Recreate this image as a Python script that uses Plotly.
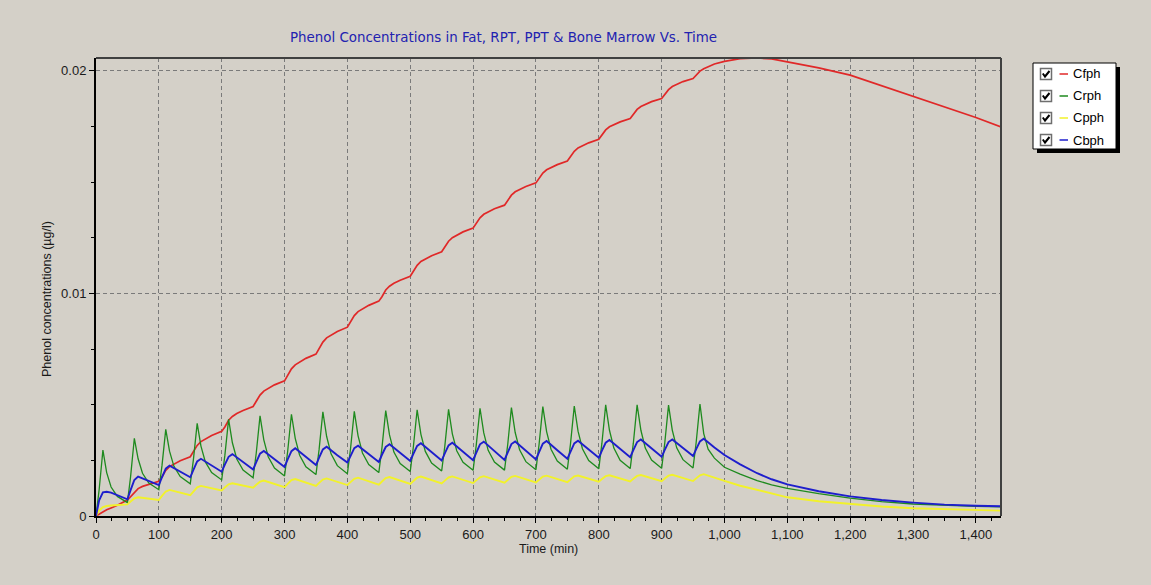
import plotly.graph_objects as go

# ---------------- data ----------------
time_min = [
    0, 5, 11, 17, 24, 34,
    50, 55, 61, 67, 74, 84,
    100, 105, 111, 117, 124, 134,
    150, 155, 161, 167, 174, 184,
    200, 205, 211, 217, 224, 234,
    250, 255, 261, 267, 274, 284,
    300, 305, 311, 317, 324, 334,
    350, 355, 361, 367, 374, 384,
    400, 405, 411, 417, 424, 434,
    450, 455, 461, 467, 474, 484,
    500, 505, 511, 517, 524, 534,
    550, 555, 561, 567, 574, 584,
    600, 605, 611, 617, 624, 634,
    650, 655, 661, 667, 674, 684,
    700, 705, 711, 717, 724, 734,
    750, 755, 761, 767, 774, 784,
    800, 805, 811, 817, 824, 834,
    850, 855, 861, 867, 874, 884,
    900, 905, 911, 917, 924, 934,
    950, 955, 961, 967, 974, 984,
    1000, 1025, 1052, 1075, 1100, 1150, 1200, 1250, 1300, 1350, 1400, 1440,
]

Cfph = [
    0, 0.00008, 0.0002, 0.00028, 0.00036, 0.00048,
    0.00072, 0.00087, 0.00109, 0.00123, 0.00133, 0.00143,
    0.00156, 0.00176, 0.00205, 0.00222, 0.00234, 0.00248,
    0.00266, 0.00287, 0.00317, 0.00334, 0.00347, 0.00362,
    0.0038, 0.004, 0.0043, 0.00447, 0.0046, 0.00474,
    0.00492, 0.00513, 0.00543, 0.00561, 0.00574, 0.00589,
    0.00607, 0.00629, 0.00661, 0.00679, 0.00692, 0.00708,
    0.00727, 0.00749, 0.00781, 0.008, 0.00813, 0.00829,
    0.00848, 0.00869, 0.009, 0.00918, 0.00931, 0.00946,
    0.00965, 0.00985, 0.01015, 0.01032, 0.01045, 0.01059,
    0.01077, 0.01097, 0.01126, 0.01143, 0.01155, 0.01169,
    0.01187, 0.01206, 0.01234, 0.0125, 0.01262, 0.01276,
    0.01293, 0.01312, 0.01339, 0.01355, 0.01366, 0.0138,
    0.01396, 0.01414, 0.01441, 0.01456, 0.01467, 0.0148,
    0.01496, 0.01514, 0.0154, 0.01555, 0.01566, 0.01578,
    0.01594, 0.01612, 0.01638, 0.01653, 0.01664, 0.01676,
    0.01692, 0.01709, 0.01734, 0.01748, 0.01758, 0.0177,
    0.01785, 0.01802, 0.01826, 0.01839, 0.01849, 0.01861,
    0.01875, 0.01892, 0.01915, 0.01929, 0.01939, 0.01951,
    0.01965, 0.0198, 0.01998, 0.02009, 0.02019, 0.0203,
    0.02042, 0.02054, 0.02057, 0.02053, 0.0204, 0.02013, 0.0198, 0.01932, 0.01883, 0.01836, 0.0179, 0.01747,
]

Crph = [
    0, 0.00118, 0.00296, 0.00195, 0.0013, 0.00088,
    0.0006, 0.00176, 0.00349, 0.00257, 0.00192, 0.00148,
    0.00118, 0.00226, 0.00389, 0.00291, 0.00223, 0.00177,
    0.00145, 0.00253, 0.00416, 0.00314, 0.00243, 0.00195,
    0.00162, 0.00271, 0.00434, 0.00329, 0.00256, 0.00206,
    0.00172, 0.00283, 0.0045, 0.00342, 0.00266, 0.00215,
    0.0018, 0.00291, 0.00457, 0.00349, 0.00273, 0.00221,
    0.00186, 0.00299, 0.00468, 0.00357, 0.00279, 0.00226,
    0.0019, 0.00302, 0.0047, 0.0036, 0.00283, 0.00231,
    0.00195, 0.00306, 0.00473, 0.00364, 0.00287, 0.00236,
    0.002, 0.00311, 0.00477, 0.00367, 0.0029, 0.00238,
    0.00202, 0.00313, 0.00479, 0.00369, 0.00293, 0.00241,
    0.00205, 0.00317, 0.00484, 0.00373, 0.00295, 0.00242,
    0.00206, 0.00318, 0.00487, 0.00375, 0.00297, 0.00244,
    0.00208, 0.00321, 0.00491, 0.00379, 0.003, 0.00247,
    0.0021, 0.00324, 0.00494, 0.00381, 0.00302, 0.00249,
    0.00212, 0.00327, 0.00499, 0.00385, 0.00305, 0.0025,
    0.00213, 0.00327, 0.00499, 0.00385, 0.00305, 0.00251,
    0.00214, 0.00328, 0.00498, 0.00385, 0.00306, 0.00253,
    0.00216, 0.00331, 0.00503, 0.0037, 0.003, 0.0026,
    0.00219, 0.00188, 0.00159, 0.0014, 0.00124, 0.001, 0.0008, 0.00065, 0.00054, 0.00047, 0.00043, 0.00041,
]

Cpph = [
    0, 0.00025, 0.0004, 0.00045, 0.00047, 0.0005,
    0.00052, 0.00065, 0.00079, 0.00084, 0.00081, 0.00078,
    0.00072, 0.0009, 0.0011, 0.00117, 0.00112, 0.00105,
    0.00094, 0.0011, 0.00129, 0.00135, 0.00131, 0.00124,
    0.00115, 0.00128, 0.00142, 0.00147, 0.00143, 0.00136,
    0.00127, 0.0014, 0.00154, 0.00159, 0.00153, 0.00144,
    0.0013, 0.00144, 0.00161, 0.00166, 0.00159, 0.0015,
    0.00135, 0.00149, 0.00164, 0.00169, 0.00162, 0.00153,
    0.00139, 0.00152, 0.00167, 0.00172, 0.00165, 0.00156,
    0.00141, 0.00155, 0.0017, 0.00175, 0.00168, 0.00159,
    0.00144, 0.00157, 0.00172, 0.00177, 0.0017, 0.00161,
    0.00146, 0.00159, 0.00173, 0.00178, 0.00171, 0.00162,
    0.00148, 0.0016, 0.00174, 0.00179, 0.00173, 0.00164,
    0.0015, 0.00162, 0.00176, 0.0018, 0.00174, 0.00165,
    0.00151, 0.00163, 0.00177, 0.00181, 0.00175, 0.00166,
    0.00152, 0.00164, 0.00178, 0.00182, 0.00176, 0.00167,
    0.00154, 0.00166, 0.00179, 0.00183, 0.00177, 0.00168,
    0.00155, 0.00167, 0.0018, 0.00184, 0.00178, 0.00169,
    0.00156, 0.00168, 0.00181, 0.00185, 0.00179, 0.0017,
    0.00157, 0.00169, 0.00183, 0.00188, 0.00181, 0.00172,
    0.00158, 0.00136, 0.00117, 0.001, 0.00084, 0.00066, 0.00054, 0.00043, 0.00035, 0.0003, 0.00026, 0.00024,
]

Cbph = [
    0, 0.0007, 0.00106, 0.00109, 0.00105, 0.00094,
    0.00075, 0.00116, 0.00162, 0.00177, 0.00169, 0.00157,
    0.00139, 0.00174, 0.00213, 0.00226, 0.00215, 0.00198,
    0.00174, 0.00207, 0.00245, 0.00257, 0.00244, 0.00226,
    0.00199, 0.00231, 0.00266, 0.00278, 0.00263, 0.00241,
    0.00209, 0.00242, 0.0028, 0.00292, 0.00276, 0.00254,
    0.0022, 0.00254, 0.00291, 0.00304, 0.00288, 0.00264,
    0.00229, 0.00262, 0.00299, 0.00311, 0.00295, 0.00273,
    0.0024, 0.0027, 0.00305, 0.00316, 0.003, 0.00277,
    0.00243, 0.00275, 0.0031, 0.00322, 0.00306, 0.00282,
    0.00247, 0.00279, 0.00315, 0.00327, 0.0031, 0.00286,
    0.00249, 0.00281, 0.00317, 0.00329, 0.00312, 0.00288,
    0.00251, 0.00284, 0.00322, 0.00334, 0.00316, 0.00291,
    0.00252, 0.00285, 0.00323, 0.00335, 0.00317, 0.00292,
    0.00254, 0.00287, 0.00325, 0.00337, 0.00319, 0.00295,
    0.00257, 0.00289, 0.00326, 0.00338, 0.00321, 0.00298,
    0.00262, 0.00294, 0.00329, 0.00341, 0.00324, 0.003,
    0.00264, 0.00296, 0.00332, 0.00344, 0.00327, 0.00303,
    0.00266, 0.00297, 0.00332, 0.00344, 0.00328, 0.00304,
    0.00269, 0.003, 0.00335, 0.00347, 0.0033, 0.00308,
    0.00274, 0.00232, 0.00192, 0.00165, 0.00142, 0.00111, 0.00088, 0.00072, 0.0006, 0.00051, 0.00046, 0.00044,
]

series_names = ["Cfph", "Crph", "Cpph", "Cbph"]
series_values = [Cfph, Crph, Cpph, Cbph]
series_colors = ["#E02828", "#1E8A1E", "#F2F22A", "#1E1ECC"]
series_widths = [1.7, 1.3, 1.9, 1.9]

x_tick_vals = [0, 100, 200, 300, 400, 500, 600, 700, 800, 900, 1000, 1100, 1200, 1300, 1400]
y_tick_vals = [0, 0.01, 0.02]
y_tick_text = ["0", "0.01", "0.02"]

title_text = "Phenol Concentrations in Fat, RPT, PPT & Bone Marrow Vs. Time"
x_title = "Time (min)"
y_title = "Phenol concentrations (µg/l)"

# ---------------- layout geometry (pixels) ----------------
W, H = 1151, 585
L, R, T, B = 96, 1001, 58, 516
BG = "#D4D0C8"
FONT = "Liberation Sans, Arial, sans-serif"
WIDE_FONT = "DejaVu Sans, Verdana, sans-serif"


def px(x):
    return (x - L) / (R - L)


def py(y):
    return (B - y) / (B - T)


fig = go.Figure()
for name, vals, col, w in zip(series_names, series_values, series_colors, series_widths):
    fig.add_trace(go.Scatter(x=time_min, y=vals, name=name, mode="lines",
                             line=dict(color=col, width=w), showlegend=False))

axis_common = dict(
    showline=True, linecolor="black", linewidth=2,
    ticks="outside", ticklen=5, tickcolor="black", tickwidth=1,
    showgrid=True, gridcolor="#7A7A7A", gridwidth=1, griddash="4px,3px",
    zeroline=False,
    tickfont=dict(family=FONT, size=13, color="#1A1A1A"),
)

fig.update_xaxes(
    range=[0, 1440], tickvals=x_tick_vals, tickformat=",d",
    minor=dict(dtick=25, tick0=0, ticks="outside", ticklen=3, tickcolor="black", showgrid=False),
    **axis_common,
)
fig.update_yaxes(
    range=[0, 0.02057], tickvals=y_tick_vals, ticktext=y_tick_text,
    minor=dict(dtick=0.0025, tick0=0, ticks="outside", ticklen=3, tickcolor="black", showgrid=False),
    **axis_common,
)

shapes = []
# top & right frame of the plot area (dark gray)
shapes.append(dict(type="line", xref="paper", yref="paper", x0=0, x1=1, y0=1, y1=1,
                   line=dict(color="#404040", width=2)))
shapes.append(dict(type="line", xref="paper", yref="paper", x0=1, x1=1, y0=0, y1=1,
                   line=dict(color="#404040", width=2)))

# manual legend box with shadow
shapes.append(dict(type="rect", xref="paper", yref="paper",
                   x0=px(1037), x1=px(1120), y0=py(153), y1=py(67),
                   fillcolor="black", line=dict(width=0)))
shapes.append(dict(type="rect", xref="paper", yref="paper",
                   x0=px(1033), x1=px(1116), y0=py(149), y1=py(63),
                   fillcolor="white", line=dict(color="black", width=1)))

annotations = []
row_centers = [74, 96, 118, 140]
for name, col, cy in zip(series_names, series_colors, row_centers):
    # checkbox
    shapes.append(dict(type="rect", xref="paper", yref="paper",
                       x0=px(1040.5), x1=px(1051.5), y0=py(cy + 5.5), y1=py(cy - 5.5),
                       fillcolor="white", line=dict(color="#6E6E6E", width=1.5)))
    path = "M {:.5f} {:.5f} L {:.5f} {:.5f} L {:.5f} {:.5f}".format(
        px(1042.8), py(cy - 0.5), px(1045.0), py(cy + 2.5), px(1049.5), py(cy - 3.0))
    shapes.append(dict(type="path", xref="paper", yref="paper", path=path,
                       line=dict(color="black", width=2)))
    # colored line sample
    shapes.append(dict(type="line", xref="paper", yref="paper",
                       x0=px(1059.5), x1=px(1068), y0=py(cy), y1=py(cy),
                       line=dict(color=col, width=1.5)))
    annotations.append(dict(xref="paper", yref="paper", x=px(1071), y=py(cy),
                            xanchor="left", yanchor="middle", showarrow=False,
                            text=name, font=dict(family=FONT, size=13, color="black")))

# title and axis titles
annotations.append(dict(xref="paper", yref="paper", x=px(503), y=py(38),
                        xanchor="center", yanchor="middle", showarrow=False,
                        text=title_text, font=dict(family=WIDE_FONT, size=13.4, color="#2222B0")))
annotations.append(dict(xref="paper", yref="paper", x=px(548), y=py(549),
                        xanchor="center", yanchor="middle", showarrow=False,
                        text=x_title, font=dict(family=FONT, size=12.5, color="#1A1A1A")))
annotations.append(dict(xref="paper", yref="paper", x=px(47), y=py(299),
                        xanchor="center", yanchor="middle", showarrow=False, textangle=-90,
                        text=y_title, font=dict(family=FONT, size=12.5, color="#1A1A1A")))

fig.update_layout(
    width=W, height=H,
    margin=dict(l=L, r=W - R, t=T, b=H - B, autoexpand=False),
    paper_bgcolor=BG, plot_bgcolor=BG,
    showlegend=False,
    shapes=shapes, annotations=annotations,
    font=dict(family=FONT, size=12, color="#1A1A1A"),
)

fig.write_html("out.html")
